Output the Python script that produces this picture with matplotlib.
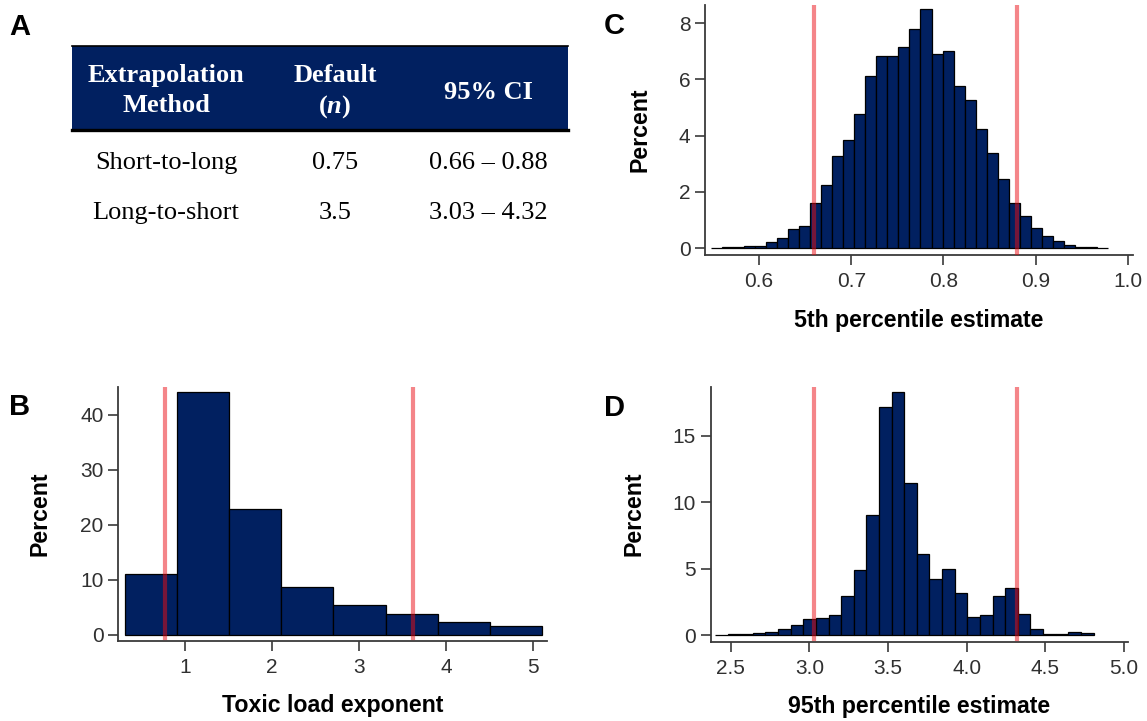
import matplotlib
matplotlib.use("Agg")
import matplotlib.pyplot as plt
from matplotlib.patches import Rectangle
from matplotlib.lines import Line2D
import numpy as np

plt.rcParams['font.family'] = ['Liberation Sans', 'DejaVu Sans']
plt.rcParams['mathtext.fontset'] = 'custom'
plt.rcParams['mathtext.it'] = 'Liberation Serif:style=italic:weight=bold'

# ---- data ----
# table A
tab_header = ["Extrapolation\nMethod", "Default\n($\\mathit{n}$)", "95% CI"]
tab_methods = ["Short-to-long", "Long-to-short"]
tab_default = ["0.75", "3.5"]
tab_ci = ["0.66 \u2013 0.88", "3.03 \u2013 4.32"]

# B: toxic load exponent
b_start, b_width = 0.30, 0.6015
b_pct = [11.1, 44.1, 22.9, 8.7, 5.5, 3.9, 2.3, 1.6]
b_ci = [0.77, 3.62]

# C: 5th percentile estimate
c_start, c_width = 0.548, 0.01195
c_pct = [0.01, 0.02, 0.04, 0.06, 0.08, 0.20, 0.37, 0.68, 0.80, 1.60,
         2.23, 3.26, 3.83, 4.78, 6.13, 6.82, 6.82, 7.17, 7.78, 8.52,
         6.89, 7.02, 5.75, 5.28, 4.23, 3.38, 2.47, 1.60, 1.13, 0.72,
         0.44, 0.24, 0.12, 0.05, 0.03, 0.01]
c_ci = [0.66, 0.88]

# D: 95th percentile estimate
d_start, d_width = 2.40, 0.0802
d_pct = [0.03, 0.05, 0.05, 0.12, 0.20, 0.45, 0.75, 1.18, 1.28, 1.50,
         2.96, 4.87, 9.07, 17.2, 18.3, 11.43, 6.10, 4.20, 4.97, 3.19,
         1.33, 1.48, 2.96, 3.52, 1.58, 0.43, 0.08, 0.08, 0.20, 0.13]
d_ci = [3.03, 4.32]

navy = '#012060'
red = (0.92, 0.05, 0.08)
W, H = 1147, 721

fig = plt.figure(figsize=(W / 100, H / 100), dpi=100)


def px_axes(x0, x1, y0, y1):
    return fig.add_axes([x0 / W, 1 - y1 / H, (x1 - x0) / W, (y1 - y0) / H])


def hist_panel(ax, start, width, pct, ci, xlim, ylim, xticks, yticks, xfmt, xlabel, xlab_y, ylab_x):
    edges = start + width * np.arange(len(pct) + 1)
    ax.bar(edges[:-1], pct, width=width, align='edge', color=navy,
           edgecolor='black', linewidth=0.9, zorder=2)
    for v in ci:
        ax.axvline(v, ymin=0.01, ymax=1, color=red, alpha=0.5, lw=3.0, zorder=3)
    ax.set_xlim(*xlim)
    ax.set_ylim(*ylim)
    ax.set_xticks(xticks)
    ax.set_xticklabels([xfmt % t for t in xticks])
    ax.set_yticks(yticks)
    for s in ['top', 'right']:
        ax.spines[s].set_visible(False)
    for s in ['left', 'bottom']:
        ax.spines[s].set_color('#3a3a3a')
        ax.spines[s].set_linewidth(1.3)
    ax.tick_params(direction='out', length=7.5, width=1.2, color='#3a3a3a',
                   labelsize=15, labelcolor='#303030')
    ax.tick_params(axis='x', pad=5)
    ax.tick_params(axis='y', pad=3)
    ax.set_xlabel(xlabel, fontsize=16.7, fontweight='bold')
    ax.set_ylabel('Percent', fontsize=16.7, fontweight='bold')
    ax.xaxis.set_label_coords(0.5, xlab_y)
    ax.yaxis.set_label_coords(ylab_x, 0.5)


# panel C
axC = px_axes(705, 1133, 5, 255)
hist_panel(axC, c_start, c_width, c_pct, c_ci, (0.5415, 1.0054), (-0.249, 8.648),
           [0.6, 0.7, 0.8, 0.9, 1.0], [0, 2, 4, 6, 8], '%.1f',
           '5th percentile estimate', -0.215, -0.125)

# panel D
axD = px_axes(710.7, 1128, 386.7, 641.7)
hist_panel(axD, d_start, d_width, d_pct, d_ci, (2.373, 5.025), (-0.5, 18.7),
           [2.5, 3.0, 3.5, 4.0, 4.5, 5.0], [0, 5, 10, 15], '%.1f',
           '95th percentile estimate', -0.21, -0.157)

# panel B
axB = px_axes(118.3, 547.3, 387.3, 640.7)
hist_panel(axB, b_start, b_width, b_pct, b_ci, (0.2286, 5.168), (-1.04, 45.0),
           [1, 2, 3, 4, 5], [0, 10, 20, 30, 40], '%d',
           'Toxic load exponent', -0.21, -0.155)

# panel letters
for lab, x, y in [('A', 20, 27), ('B', 20, 407), ('C', 614, 26), ('D', 614, 408)]:
    fig.text(x / W, 1 - y / H, lab, fontsize=21, fontweight='bold', ha='center', va='center')

# table A
fig.patches.append(Rectangle((72.3 / W, 1 - 130 / H), (567.7 - 72.3) / W, (130 - 45.7) / H,
                             transform=fig.transFigure, facecolor=navy, edgecolor='none'))
fig.lines.append(Line2D([72.3 / W, 567.7 / W], [1 - 46 / H, 1 - 46 / H],
                        transform=fig.transFigure, color='black', lw=1.2))
fig.lines.append(Line2D([72.3 / W, 567.7 / W], [1 - 129.5 / H, 1 - 129.5 / H],
                        transform=fig.transFigure, color='black', lw=2.4))

col_x = [166, 335, 488]
serif = ['Liberation Serif', 'DejaVu Serif']
for i, h in enumerate(tab_header):
    lines = h.split('\n')
    if len(lines) == 2:
        for txt, yb in zip(lines, [82, 112.5]):
            fig.text(col_x[i] / W, 1 - yb / H, txt, family=serif, fontsize=19, fontweight='bold',
                     color='white', ha='center', va='baseline')
    else:
        fig.text(col_x[i] / W, 1 - 99 / H, h, family=serif, fontsize=19, fontweight='bold',
                 color='white', ha='center', va='baseline')

for r, yb in enumerate([169.3, 219.3]):
    for i, txt in enumerate([tab_methods[r], tab_default[r], tab_ci[r]]):
        fig.text(col_x[i] / W, 1 - yb / H, txt, family=serif, fontsize=19,
                 color='black', ha='center', va='baseline')

fig.savefig('out.png', dpi=100)
